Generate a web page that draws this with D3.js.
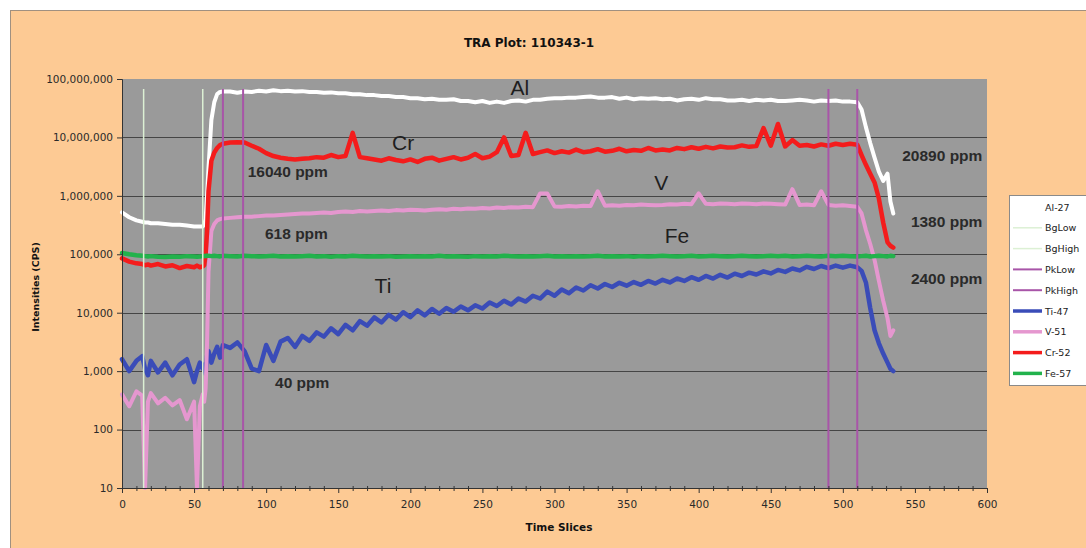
<!DOCTYPE html>
<html>
<head>
<meta charset="utf-8">
<script src="https://cdn.jsdelivr.net/npm/d3@7"></script>
<style>
  body { margin: 0; background: #ffffff; }
  svg { display: block; }
</style>
</head>
<body>
<div id="main"></div>
<script>
// time slices shared by every element trace
const slices = [0, 5, 10, 14, 16, 18, 20, 25, 30, 35, 40, 45, 50, 52, 54, 56,
  57, 58, 59, 60, 62, 64, 66, 68, 70,
  75, 80, 85, 90, 95, 100, 105, 110, 115, 120,
  125, 130, 135, 140, 145, 150, 155, 160, 165, 170,
  175, 180, 185, 190, 195, 200, 205, 210, 215, 220,
  225, 230, 235, 240, 245, 250, 255, 260, 265, 270,
  275, 280, 285, 290, 295, 300, 305, 310, 315, 320,
  325, 330, 335, 340, 345, 350, 355, 360, 365, 370,
  375, 380, 385, 390, 395, 400, 405, 410, 415, 420,
  425, 430, 435, 440, 445, 450, 455, 460, 465, 470,
  475, 480, 485, 490, 495, 500, 505, 510,
  513, 516, 519, 522, 525, 528, 531, 533, 535];

const al27 = [5.2e5, 4.3e5, 3.8e5, 3.6e5, 3.5e5, 3.5e5, 3.4e5, 3.4e5, 3.3e5, 3.2e5, 3.2e5, 3.1e5, 3.0e5, 3.0e5, 3.0e5, 3.0e5,
  3.2e5, 4e5, 1e6, 3e6, 2e7, 4e7, 5.5e7, 6.0e7, 6.1e7,
  6.1e7, 5.8e7, 6.1e7, 6.0e7, 6.3e7, 6.1e7, 6.4e7, 6.2e7, 6.3e7, 6.1e7,
  6.2e7, 6.0e7, 6.0e7, 5.8e7, 5.9e7, 5.7e7, 5.7e7, 5.5e7, 5.5e7, 5.3e7,
  5.3e7, 5.1e7, 5.1e7, 4.9e7, 4.9e7, 4.7e7, 4.7e7, 4.5e7, 4.6e7, 4.4e7,
  4.4e7, 4.5e7, 4.2e7, 4.2e7, 4.0e7, 4.2e7, 3.9e7, 4.1e7, 3.9e7, 4.2e7,
  4.3e7, 4.1e7, 4.4e7, 4.4e7, 4.6e7, 4.7e7, 4.7e7, 4.8e7, 4.8e7, 4.9e7,
  5.0e7, 4.8e7, 4.8e7, 4.9e7, 4.6e7, 4.8e7, 4.5e7, 4.7e7, 4.6e7, 4.7e7,
  4.5e7, 4.6e7, 4.3e7, 4.5e7, 4.6e7, 4.4e7, 4.7e7, 4.5e7, 4.5e7, 4.3e7,
  4.3e7, 4.4e7, 4.2e7, 4.4e7, 4.3e7, 4.4e7, 4.2e7, 4.2e7, 4.3e7, 4.4e7,
  4.3e7, 4.1e7, 4.3e7, 4.2e7, 4.3e7, 4.1e7, 4.1e7, 4.0e7,
  3.0e7, 1.5e7, 8e6, 4.5e6, 2.6e6, 1.8e6, 2.4e6, 8e5, 5e5];

const ti47 = [1600, 1000, 1500, 1800, 1100, 850, 1500, 950, 1400, 850, 1300, 1600, 650, 1000, 1400, 1100,
  1300, 900, 1800, 2200, 1400, 2000, 2600, 1700, 2800,
  2500, 3100, 2200, 1100, 1000, 2800, 1500, 3200, 3700, 2600,
  4000, 3300, 4600, 3900, 5400, 4300, 6200, 5000, 7200, 6000,
  8300, 6800, 9200, 7600, 10200, 8400, 11000, 9000, 11600, 9600,
  12000, 10400, 12800, 11000, 13400, 11800, 15000, 13000, 16000, 13800,
  17500, 15500, 19500, 17500, 23000, 19500, 25000, 21500, 27000, 24000,
  29500, 26000, 31000, 27500, 32500, 29000, 33500, 30000, 35000, 31500,
  36500, 33000, 38500, 35000, 40500, 36500, 42500, 38500, 44500, 40000,
  46500, 42500, 48500, 45000, 51000, 47000, 54000, 50000, 57000, 53000,
  61000, 56000, 63000, 58000, 64000, 59000, 64000, 60000,
  52000, 33000, 12000, 5000, 3000, 2000, 1400, 1100, 1000];

const v51 = [400, 250, 450, 380, 10, 300, 420, 280, 350, 260, 320, 150, 300, 10, 250, 400,
  300, 500, 3e3, 5e4, 2.5e5, 3.3e5, 3.8e5, 4.0e5, 4.1e5,
  4.2e5, 4.3e5, 4.4e5, 4.4e5, 4.5e5, 4.6e5, 4.6e5, 4.7e5, 4.8e5, 4.9e5,
  5.0e5, 5.0e5, 5.1e5, 5.2e5, 5.1e5, 5.3e5, 5.4e5, 5.3e5, 5.5e5, 5.4e5,
  5.5e5, 5.6e5, 5.5e5, 5.7e5, 5.6e5, 5.8e5, 5.7e5, 5.6e5, 5.8e5, 5.9e5,
  5.8e5, 6.0e5, 5.9e5, 6.1e5, 6.0e5, 6.2e5, 6.1e5, 6.3e5, 6.2e5, 6.4e5,
  6.3e5, 6.5e5, 6.4e5, 1.1e6, 1.1e6, 6.6e5, 6.5e5, 6.7e5, 6.6e5, 6.8e5,
  6.7e5, 1.2e6, 6.8e5, 6.9e5, 6.8e5, 7.0e5, 6.9e5, 7.1e5, 7.0e5, 6.9e5,
  7.0e5, 7.2e5, 7.1e5, 7.3e5, 7.2e5, 1.1e6, 7.3e5, 7.2e5, 7.4e5, 7.3e5,
  7.2e5, 7.4e5, 7.3e5, 7.2e5, 7.4e5, 7.3e5, 7.2e5, 7.1e5, 1.3e6, 7.0e5,
  7.1e5, 6.9e5, 1.2e6, 7.0e5, 6.8e5, 6.9e5, 6.7e5, 6.5e5,
  5.0e5, 2.6e5, 1.5e5, 8e4, 3.5e4, 1.6e4, 8e3, 4e3, 5e3];

const cr52 = [8.5e4, 7.5e4, 7.0e4, 6.8e4, 6.5e4, 6.7e4, 6.4e4, 6.8e4, 6.2e4, 6.5e4, 5.8e4, 6.3e4, 6.0e4, 6.4e4, 6.0e4, 6.2e4,
  6.5e4, 1.0e5, 2.5e5, 1.2e6, 4e6, 5.5e6, 6.6e6, 7.4e6, 7.8e6,
  8.2e6, 8.3e6, 8.2e6, 7.2e6, 6.4e6, 5.4e6, 4.8e6, 4.5e6, 4.3e6, 4.2e6,
  4.3e6, 4.4e6, 4.6e6, 4.5e6, 5.0e6, 4.6e6, 4.8e6, 1.2e7, 4.6e6, 4.4e6,
  4.2e6, 4.0e6, 4.4e6, 4.1e6, 3.9e6, 4.2e6, 3.8e6, 4.3e6, 4.5e6, 4.0e6,
  4.3e6, 4.6e6, 4.2e6, 4.5e6, 5.2e6, 4.4e6, 4.7e6, 5.6e6, 1.0e7, 4.8e6,
  5.0e6, 1.2e7, 5.2e6, 5.6e6, 6.0e6, 5.4e6, 5.8e6, 5.5e6, 6.2e6, 5.6e6,
  5.8e6, 6.3e6, 5.7e6, 5.9e6, 6.4e6, 5.8e6, 6.1e6, 5.9e6, 6.6e6, 6.0e6,
  6.2e6, 6.0e6, 6.6e6, 6.3e6, 6.8e6, 6.4e6, 6.9e6, 6.5e6, 7.0e6, 6.7e6,
  6.8e6, 7.3e6, 6.9e6, 7.1e6, 1.45e7, 7.2e6, 1.7e7, 7.0e6, 9.0e6, 7.2e6,
  7.4e6, 7.0e6, 7.6e6, 7.2e6, 7.8e6, 7.4e6, 7.8e6, 7.5e6,
  5.0e6, 3.4e6, 2.4e6, 1.7e6, 9e5, 3.5e5, 1.6e5, 1.4e5, 1.3e5];

const fe57 = [1.05e5, 1.0e5, 9.6e4, 9.4e4, 9.3e4, 9.2e4, 9.3e4, 9.1e4, 9.0e4, 9.2e4, 9.1e4, 9.3e4, 9.2e4, 9.1e4, 9.2e4, 9.3e4,
  9.4e4, 9.3e4, 9.5e4, 9.4e4, 9.3e4, 9.4e4, 9.3e4, 9.2e4, 9.4e4,
  9.3e4, 9.2e4, 9.4e4, 9.3e4, 9.2e4, 9.3e4, 9.4e4, 9.2e4, 9.3e4, 9.2e4,
  9.3e4, 9.4e4, 9.2e4, 9.3e4, 9.1e4, 9.3e4, 9.2e4, 9.4e4, 9.3e4, 9.2e4,
  9.3e4, 9.2e4, 9.3e4, 9.1e4, 9.2e4, 9.3e4, 9.2e4, 9.3e4, 9.2e4, 9.4e4,
  9.2e4, 9.3e4, 9.2e4, 9.1e4, 9.3e4, 9.2e4, 9.3e4, 9.2e4, 9.4e4, 9.3e4,
  9.2e4, 9.3e4, 9.2e4, 9.3e4, 9.4e4, 9.2e4, 9.3e4, 9.2e4, 9.3e4, 9.2e4,
  9.3e4, 9.4e4, 9.2e4, 9.3e4, 9.2e4, 9.3e4, 9.1e4, 9.3e4, 9.2e4, 9.3e4,
  9.4e4, 9.3e4, 9.2e4, 9.3e4, 9.4e4, 9.2e4, 9.3e4, 9.4e4, 9.3e4, 9.2e4,
  9.3e4, 9.4e4, 9.3e4, 9.2e4, 9.3e4, 9.4e4, 9.3e4, 9.4e4, 9.2e4, 9.3e4,
  9.4e4, 9.3e4, 9.2e4, 9.4e4, 9.3e4, 9.4e4, 9.3e4, 9.2e4,
  9.3e4, 9.4e4, 9.2e4, 9.3e4, 9.4e4, 9.3e4, 9.2e4, 9.4e4, 9.3e4];

// integration window markers (time slice)
const bgLow = [15];
const bgHigh = [56];
const pkLow = [70, 490];
const pkHigh = [84, 510];

const xTicks = [0, 50, 100, 150, 200, 250, 300, 350, 400, 450, 500, 550, 600];
const xMinor = [10, 20, 30, 40, 60, 70, 80, 90, 110, 120, 130, 140, 160, 170, 180, 190, 210, 220, 230, 240,
  260, 270, 280, 290, 310, 320, 330, 340, 360, 370, 380, 390, 410, 420, 430, 440, 460, 470, 480, 490,
  510, 520, 530, 540, 560, 570, 580, 590];
const yTicks = [10, 100, 1000, 10000, 100000, 1000000, 10000000, 100000000];

const legendNames = ["Al-27", "BgLow", "BgHigh", "PkLow", "PkHigh", "Ti-47", "V-51", "Cr-52", "Fe-57"];

const elementNames = ["Al", "Cr", "V", "Fe", "Ti"];
const elementAnchors = [[276, 5.3e7], [195, 6e6], [374, 1.24e6], [385, 1.53e5], [181, 2.2e4]];
const ppmLabels = ["16040 ppm", "618 ppm", "40 ppm", "20890 ppm", "1380 ppm", "2400 ppm"];
const ppmAnchors = [[115, 2.1e6], [121, 1.86e5], [125, 519], [569, 3.9e6], [572, 2.9e5], [572, 3.16e4]];

const colors = {
  "Al-27": "#ffffff", "BgLow": "#dcf0d4", "BgHigh": "#dcf0d4", "PkLow": "#a855a8", "PkHigh": "#a855a8",
  "Ti-47": "#3a4cb8", "V-51": "#e597cf", "Cr-52": "#f41c1c", "Fe-57": "#22b24c"
};
const widths = {
  "Al-27": 4, "BgLow": 1.5, "BgHigh": 1.5, "PkLow": 2, "PkHigh": 2,
  "Ti-47": 4.5, "V-51": 4, "Cr-52": 4.5, "Fe-57": 4.5
};

const width = 1086;
const height = 548;
const plot = { left: 122, right: 987, top: 79, bottom: 488 };
const tickFont = "'DejaVu Sans', Verdana, sans-serif";

const svg = d3.select("#main")
  .append("svg")
  .attr("width", width)
  .attr("height", height);

svg.append("rect")
  .attr("x", 10.5).attr("y", 10.5)
  .attr("width", width).attr("height", height)
  .attr("fill", "#fdca94")
  .attr("stroke", "#a09080");

const xScale = d3.scaleLinear().domain([0, 600]).range([plot.left, plot.right]);
const yScale = d3.scaleLog().domain([10, 1e8]).range([plot.bottom, plot.top]);

svg.append("rect")
  .attr("x", plot.left).attr("y", plot.top)
  .attr("width", plot.right - plot.left).attr("height", plot.bottom - plot.top)
  .attr("fill", "#9a9a9a");

// gridlines
svg.append("g")
  .selectAll("line")
  .data(yTicks.slice(1, -1))
  .enter()
  .append("line")
  .attr("x1", plot.left).attr("x2", plot.right)
  .attr("y1", d => Math.round(yScale(d)) + 0.5)
  .attr("y2", d => Math.round(yScale(d)) + 0.5)
  .attr("stroke", "#454545")
  .attr("stroke-width", 1);

// element traces
const series = [
  { name: "Al-27", values: al27 },
  { name: "Ti-47", values: ti47 },
  { name: "V-51", values: v51 },
  { name: "Cr-52", values: cr52 },
  { name: "Fe-57", values: fe57 }
];

const line = d3.line()
  .x((d, i) => xScale(slices[i]))
  .y(d => yScale(d));

svg.append("g")
  .selectAll("path")
  .data(series)
  .enter()
  .append("path")
  .attr("d", d => line(d.values))
  .attr("fill", "none")
  .attr("stroke", d => colors[d.name])
  .attr("stroke-width", d => widths[d.name])
  .attr("stroke-linejoin", "round")
  .attr("stroke-linecap", "round");

// background / peak window markers
const markers = [
  { name: "BgLow", at: bgLow },
  { name: "BgHigh", at: bgHigh },
  { name: "PkLow", at: pkLow },
  { name: "PkHigh", at: pkHigh }
];
markers.forEach(m => {
  svg.append("g")
    .selectAll("line")
    .data(m.at)
    .enter()
    .append("line")
    .attr("x1", d => xScale(d)).attr("x2", d => xScale(d))
    .attr("y1", plot.top + 10).attr("y2", plot.bottom)
    .attr("stroke", colors[m.name])
    .attr("stroke-width", widths[m.name]);
});

// axes
const yAxis = d3.axisLeft(yScale)
  .tickValues(yTicks)
  .tickFormat(d3.format(","))
  .tickSize(5)
  .tickPadding(4);

const yG = svg.append("g")
  .attr("transform", "translate(" + plot.left + ",0)")
  .call(yAxis);

const xAxis = d3.axisBottom(xScale)
  .tickValues(xTicks)
  .tickFormat(d3.format("d"))
  .tickSize(5)
  .tickPadding(8);

const xG = svg.append("g")
  .attr("transform", "translate(0," + plot.bottom + ")")
  .call(xAxis);

svg.append("g")
  .attr("transform", "translate(0," + (plot.bottom - 2) + ")")
  .call(d3.axisBottom(xScale).tickValues(xMinor).tickSize(5).tickFormat(""))
  .call(g => g.select(".domain").remove());

[xG, yG].forEach(g => {
  g.selectAll("text")
    .style("font-family", tickFont)
    .style("font-size", "10.5px")
    .attr("fill", "#2a2a2a");
  g.select(".domain").attr("stroke", "#333");
});
svg.selectAll(".tick line").attr("stroke", "#333");

// titles
svg.append("text")
  .attr("x", 529).attr("y", 47)
  .attr("text-anchor", "middle")
  .style("font-family", tickFont)
  .style("font-weight", "bold")
  .style("font-size", "12px")
  .attr("fill", "#111")
  .text("TRA Plot: 110343-1");

svg.append("text")
  .attr("x", 559).attr("y", 531)
  .attr("text-anchor", "middle")
  .style("font-family", tickFont)
  .style("font-weight", "bold")
  .style("font-size", "10.5px")
  .attr("fill", "#111")
  .text("Time Slices");

svg.append("text")
  .attr("transform", "translate(39,287) rotate(-90)")
  .attr("text-anchor", "middle")
  .style("font-family", tickFont)
  .style("font-weight", "bold")
  .style("font-size", "9.5px")
  .attr("fill", "#111")
  .text("Intensities (CPS)");

// in-plot annotations
svg.append("g")
  .selectAll("text")
  .data(elementNames)
  .enter()
  .append("text")
  .attr("x", (d, i) => xScale(elementAnchors[i][0]))
  .attr("y", (d, i) => yScale(elementAnchors[i][1]))
  .attr("text-anchor", "middle")
  .style("font-family", "'Liberation Sans', Arial, sans-serif")
  .style("font-size", "21px")
  .attr("fill", "#1e1e1e")
  .text(d => d);

svg.append("g")
  .selectAll("text")
  .data(ppmLabels)
  .enter()
  .append("text")
  .attr("x", (d, i) => xScale(ppmAnchors[i][0]))
  .attr("y", (d, i) => yScale(ppmAnchors[i][1]))
  .attr("text-anchor", "middle")
  .style("font-family", "'Liberation Sans', Arial, sans-serif")
  .style("font-weight", "bold")
  .style("font-size", "15.5px")
  .attr("fill", "#2a2a2a")
  .text(d => d);

// legend
const legend = svg.append("g")
  .attr("id", "legend")
  .attr("transform", "translate(1009,195)");

legend.append("rect")
  .attr("x", 0.5).attr("y", 0.5)
  .attr("width", 90).attr("height", 190)
  .attr("fill", "#ffffff")
  .attr("stroke", "#8a8a8a");

const rows = legend.selectAll("g.row")
  .data(legendNames)
  .enter()
  .append("g")
  .attr("class", "row")
  .attr("transform", (d, i) => "translate(0," + (12 + i * 20.8) + ")");

rows.append("line")
  .attr("x1", 4).attr("x2", 33)
  .attr("y1", 0).attr("y2", 0)
  .attr("stroke", d => colors[d])
  .attr("stroke-width", d => Math.min(widths[d], 3.5));

rows.append("text")
  .attr("x", 36).attr("y", 3.5)
  .style("font-family", tickFont)
  .style("font-size", "9.5px")
  .attr("fill", "#222")
  .text(d => d);
</script>
</body>
</html>
